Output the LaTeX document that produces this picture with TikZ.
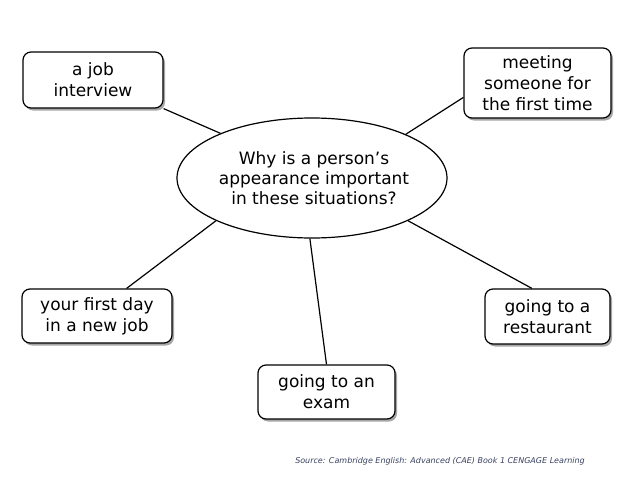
\documentclass[tikz,border=0pt]{standalone}
\usepackage{fontspec}
\setmainfont{DejaVu Sans}
\usetikzlibrary{shapes.geometric,shadows}
\definecolor{srccol}{RGB}{55,65,95}
\tikzset{
  topic/.style={draw=black, line width=1.2pt, rounded corners=8pt, fill=white, align=center,
    inner sep=0pt, font=\fontsize{17}{21}\selectfont,
    drop shadow={shadow xshift=2pt, shadow yshift=-2.5pt, opacity=0.35, fill=black}},
  link/.style={draw=black, line width=1.2pt},
}
\begin{document}
\begin{tikzpicture}[x=1pt,y=-1pt]
\useasboundingbox (0,0) rectangle (638,479);
\node[ellipse, draw=black, line width=1.2pt, minimum width=270pt, minimum height=120pt, inner sep=0pt] (q) at (312,178) {};
\node[align=center, font=\fontsize{17}{20}\selectfont] (qt) at (314,178) {Why is a person’s\\appearance important\\in these situations?};
\node[topic, minimum width=140pt, minimum height=56pt] (job) at (93,80) {a job\\interview};
\node[topic, minimum width=147pt, minimum height=70pt] (meet) at (537.5,83) {meeting\\someone for\\the first time};
\node[topic, minimum width=150pt, minimum height=54pt] (day) at (97,316) {your first day\\in a new job};
\node[topic, minimum width=125pt, minimum height=55pt] (rest) at (547.5,316.5) {going to a\\restaurant};
\node[topic, minimum width=137pt, minimum height=54pt] (exam) at (326.5,392) {going to an\\exam};
\draw[link] (job.south east) -- (q.154);
\draw[link] (meet.191.5) -- (q.25);
\draw[link] (day.43) -- (q.204);
\draw[link] (rest.119) -- (q.336);
\draw[link] (exam.north) -- (q.268);
\node[font=\fontsize{8}{10}\selectfont\itshape, text=srccol, inner sep=0pt] (src) at (440,461) {Source: Cambridge English: Advanced (CAE) Book 1 CENGAGE Learning};
\end{tikzpicture}
\end{document}
